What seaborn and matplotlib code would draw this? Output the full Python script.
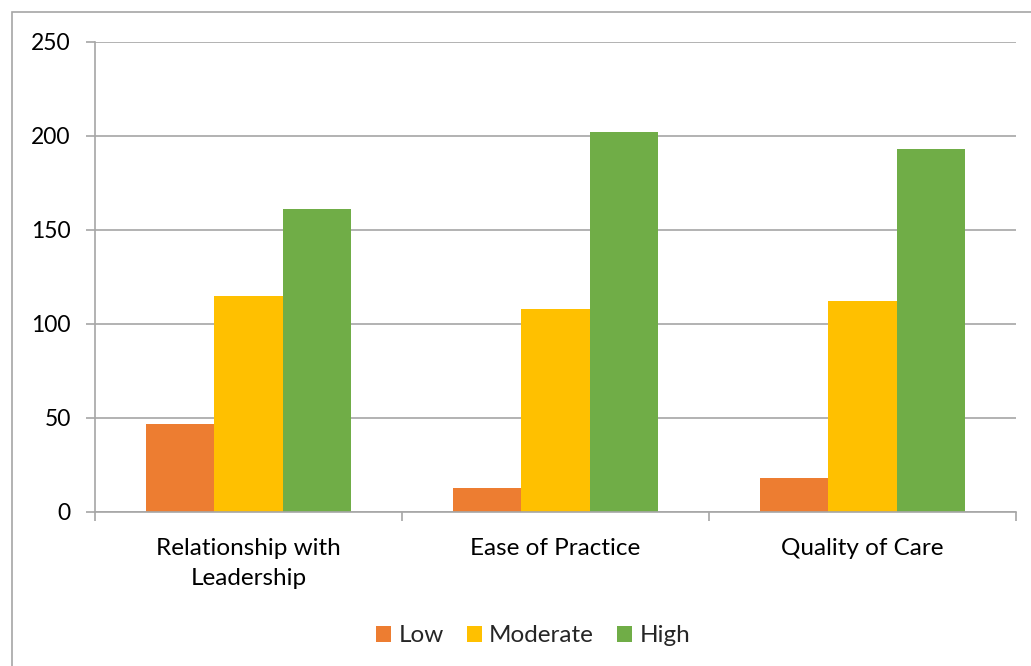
import matplotlib
matplotlib.use("Agg")
import matplotlib.pyplot as plt
import seaborn as sns
import pandas as pd
from matplotlib.patches import Rectangle

categories = ["Relationship with\nLeadership", "Ease of Practice", "Quality of Care"]
series = ["Low", "Moderate", "High"]
low = [47, 13, 18]
moderate = [115, 108, 112]
high = [161, 202, 193]
colors = ["#ED7D31", "#FFC000", "#70AD47"]

rows = []
for s, vals in zip(series, [low, moderate, high]):
    for c, v in zip(categories, vals):
        rows.append({"Category": c, "Level": s, "Value": v})
df = pd.DataFrame(rows)

sns.set_theme(style="white")
plt.rcParams["font.family"] = ["Lato", "DejaVu Sans"]

fig = plt.figure(figsize=(10.31, 6.66), dpi=100)
ax = fig.add_axes([95/1031, 1-512/666, (1016-95)/1031, (512-42)/666])

sns.barplot(data=df, x="Category", y="Value", hue="Level", order=categories,
            hue_order=series, palette=colors, width=0.667, saturation=1,
            ax=ax, legend=True, edgecolor="none", linewidth=0)

ax.set_ylim(0, 250)
ax.set_xlim(-0.5, 2.5)
ax.set_yticks([0, 50, 100, 150, 200, 250])
ax.yaxis.grid(True, color="#A6A6A6", linewidth=1.2)
ax.set_axisbelow(True)
ax.set_xlabel("")
ax.set_ylabel("")
for side in ["top", "right"]:
    ax.spines[side].set_visible(False)
ax.spines["left"].set_color("#A6A6A6")
ax.spines["bottom"].set_color("#A6A6A6")
ax.spines["left"].set_linewidth(1.2)
ax.spines["bottom"].set_linewidth(1.2)

ax.tick_params(axis="y", which="both", left=True, length=6.5, width=1.2,
               color="#A6A6A6", labelsize=16.5, pad=11, labelcolor="black")
ax.set_xticks([0, 1, 2])
ax.set_xticklabels(categories, fontsize=17.5, color="black", linespacing=1.5)
ax.tick_params(axis="x", which="major", bottom=False, pad=13)
ax.set_xticks([-0.5, 0.5, 1.5, 2.5], minor=True)
ax.tick_params(axis="x", which="minor", bottom=True, length=6.5, width=1.2,
               color="#A6A6A6")

leg = ax.legend(loc="center", bbox_to_anchor=(533/1031, 1-636/666),
                bbox_transform=fig.transFigure, ncol=3, frameon=False,
                fontsize=17.5, handlelength=0.62, handleheight=0.62,
                handletextpad=0.3, columnspacing=0.95)

fig.patches.append(Rectangle((12/1031, -0.1), 1.2, 1 - 12/666 + 0.1,
                             transform=fig.transFigure, fill=False,
                             edgecolor="#A6A6A6", linewidth=1.2))

fig.savefig("out.png", dpi=100, facecolor="white")
